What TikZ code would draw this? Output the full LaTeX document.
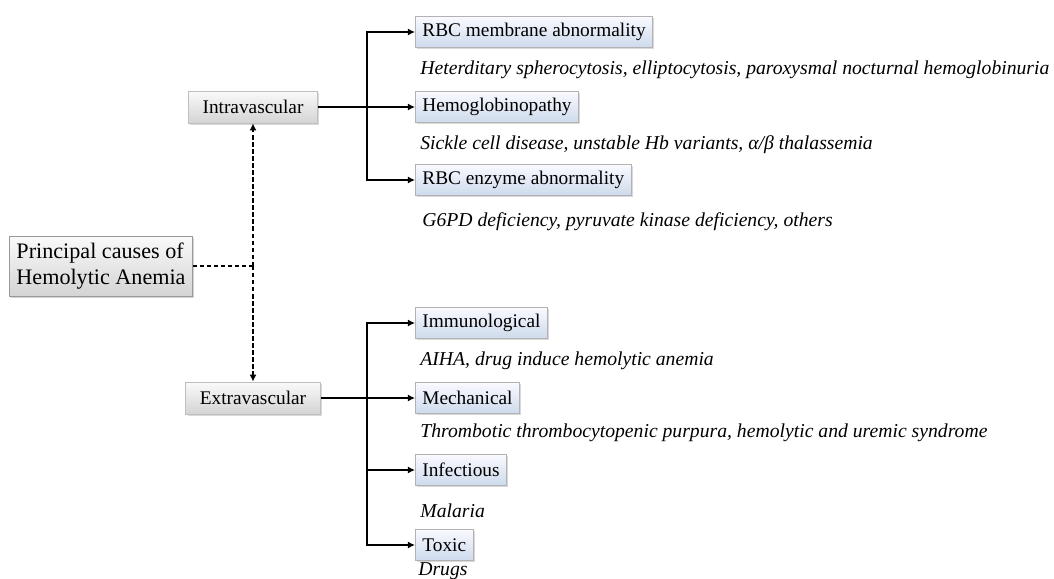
\documentclass[tikz,border=0pt]{standalone}
\usepackage{fontspec}
\setmainfont{Liberation Serif}
\usetikzlibrary{arrows.meta,shadows}
\definecolor{boxblue}{RGB}{205,219,236}
\definecolor{boxgray}{RGB}{212,212,212}
\tikzset{
  mainbox/.style={draw=gray!80, top color=gray!4, bottom color=boxgray, align=left,
    inner xsep=4pt, minimum height=1.2cm, font=\fontsize{12.6}{15}\selectfont,
    drop shadow={opacity=0.35, shadow xshift=1pt, shadow yshift=-1pt}},
  sitebox/.style={draw=gray!50, top color=gray!4, bottom color=boxgray,
    inner xsep=8pt, minimum height=0.64cm, font=\fontsize{11}{13}\selectfont,
    drop shadow={opacity=0.3, shadow xshift=1pt, shadow yshift=-1pt}},
  typebox/.style={draw=gray!60, top color=blue!2, bottom color=boxblue, anchor=west,
    inner xsep=4pt, minimum height=0.62cm, font=\fontsize{11}{13}\selectfont,
    drop shadow={opacity=0.3, shadow xshift=1pt, shadow yshift=-1pt}},
  example/.style={anchor=west, inner sep=0pt, font=\fontsize{11.2}{13}\selectfont\itshape},
  link/.style={thick, -{Latex[length=4pt,width=4pt]}},
  dashlink/.style={very thick, dash pattern=on 2.5pt off 1.5pt, -{Latex[length=4pt,width=4pt]}}
}

\begin{document}
\begin{tikzpicture}[x=0.02cm, y=-0.02cm]
    \useasboundingbox (0,0) rectangle (1054,578);
    % main cause and the two sites
    \node[mainbox] (main) at (101,266) {Principal causes of\\Hemolytic Anemia};
    \node[sitebox] (intra) at (253,107) {Intravascular};
    \node[sitebox] (extra) at (253,398) {Extravascular};
    \coordinate (mid) at (intra.south |- main.east);
    \draw[very thick, dash pattern=on 2.5pt off 1.5pt] (main.east) -- (mid);
    \draw[dashlink] (mid) -- (intra.south);
    \draw[dashlink] (mid) -- (extra.north);

    % intravascular
    \node[typebox] (memb) at (415,32) {RBC membrane abnormality};
    \node[typebox] (hemo) at (415,107) {Hemoglobinopathy};
    \node[typebox] (enzy) at (415,180) {RBC enzyme abnormality};
    \node[example] (ex1) at (420,70) {Heterditary spherocytosis, elliptocytosis, paroxysmal nocturnal hemoglobinuria};
    \node[example] (ex2) at (420,145) {Sickle cell disease, unstable Hb variants, α/β thalassemia};
    \node[example] (ex3) at (422,222) {G6PD deficiency, pyruvate kinase deficiency, others};
    \coordinate (ibus) at (367,107);
    \draw[link] (intra.east) -- (hemo.west);
    \draw[link] (ibus) |- (memb.west);
    \draw[link] (ibus) |- (enzy.west);

    % extravascular
    \node[typebox] (immu) at (415,323) {Immunological};
    \node[typebox] (mech) at (415,398) {Mechanical};
    \node[typebox] (infe) at (415,470) {Infectious};
    \node[typebox] (toxi) at (415,545) {Toxic};
    \node[example] (ex4) at (420,361) {AIHA, drug induce hemolytic anemia};
    \node[example] (ex5) at (420,433) {Thrombotic thrombocytopenic purpura, hemolytic and uremic syndrome};
    \node[example] (ex6) at (420,511) {Malaria};
    \node[example] (ex7) at (418,571) {Drugs};
    \coordinate (ebus) at (367,398);
    \draw[link] (extra.east) -- (mech.west);
    \draw[link] (ebus) |- (immu.west);
    \draw[link] (ebus) |- (infe.west);
    \draw[link] (ebus) |- (toxi.west);
\end{tikzpicture}
\end{document}
